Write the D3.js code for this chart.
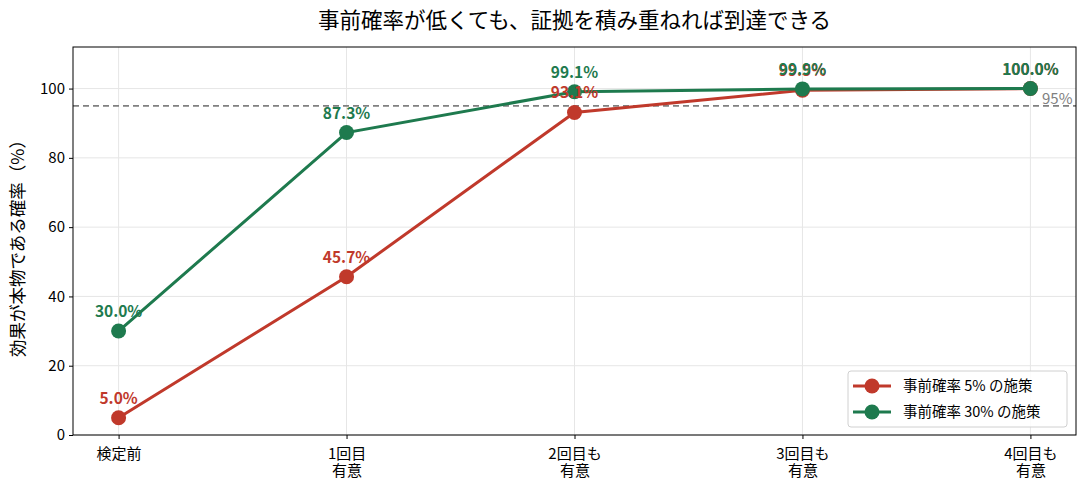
<!DOCTYPE html>
<html>
<head>
<meta charset="utf-8">
<script src="https://cdn.jsdelivr.net/npm/d3@7"></script>
<style>
  body { margin: 0; background: #fff; }
  text { font-family: "Noto Sans CJK JP", "Noto Sans", sans-serif; }
</style>
</head>
<body>
<svg id="chart" width="1087" height="494"></svg>
<script>
// data
var stages = ["検定前", "1回目\n有意", "2回目も\n有意", "3回目も\n有意", "4回目も\n有意"];
var prior5 = [5.0, 45.7, 93.1, 99.5, 100.0];
var prior30 = [30.0, 87.3, 99.1, 99.9, 100.0];
var seriesNames = ["事前確率 5% の施策", "事前確率 30% の施策"];
var seriesColors = ["#c0392b", "#1e7a4e"];
var yTicks = [0, 20, 40, 60, 80, 100];
var threshold = 95;

var svg = d3.select("#chart");
var margin = {top: 47, right: 11, bottom: 59, left: 73};
var width = 1087 - margin.left - margin.right,
    height = 494 - margin.top - margin.bottom;

var x = d3.scaleLinear().domain([-0.2, 4.2]).range([0, width]);
var y = d3.scaleLinear().domain([0, 112]).range([height, 0]);

svg.append("text")
    .attr("x", margin.left + width / 2)
    .attr("y", 28)
    .attr("text-anchor", "middle")
    .style("font-size", "21.5px")
    .text("事前確率が低くても、証拠を積み重ねれば到達できる");

var g = svg.append("g").attr("transform", "translate(" + margin.left + "," + margin.top + ")");

// grid
g.selectAll(".hgrid").data(yTicks).enter().append("line")
    .attr("x1", 0).attr("x2", width)
    .attr("y1", function(d) { return y(d); }).attr("y2", function(d) { return y(d); })
    .style("stroke", "#e6e6e6").style("stroke-width", 1);
g.selectAll(".vgrid").data(stages).enter().append("line")
    .attr("x1", function(d, i) { return x(i); }).attr("x2", function(d, i) { return x(i); })
    .attr("y1", 0).attr("y2", height)
    .style("stroke", "#e6e6e6").style("stroke-width", 1);

// threshold
g.append("line")
    .attr("x1", 0).attr("x2", width)
    .attr("y1", y(threshold)).attr("y2", y(threshold))
    .style("stroke", "#808080").style("stroke-width", 1.6)
    .style("stroke-dasharray", "6,4");
g.append("text")
    .attr("x", width - 34).attr("y", y(threshold) - 2)
    .style("font-size", "15px").style("fill", "#808080")
    .text("95%");

// axes
var yAxis = g.append("g").call(d3.axisLeft(y).tickValues(yTicks).tickSize(4).tickPadding(4));
var xAxis = g.append("g").attr("transform", "translate(0," + height + ")")
    .call(d3.axisBottom(x).tickValues(d3.range(stages.length)).tickSize(4));
xAxis.selectAll(".tick text").remove();

yAxis.selectAll("text").style("font-size", "15px").style("fill", "#000")
    .style("font-family", "\"Noto Sans CJK JP\", sans-serif");

xAxis.selectAll(".tick").each(function(d) {
    var lines = stages[d].split("\n");
    var t = d3.select(this).append("text")
        .attr("y", 10).attr("fill", "#000")
        .attr("text-anchor", "middle")
        .style("font-size", "15px");
    lines.forEach(function(l, k) {
        t.append("tspan").attr("x", 0).attr("dy", k == 0 ? "0.9em" : "1.15em").text(l);
    });
});

g.append("rect")
    .attr("width", width).attr("height", height)
    .style("fill", "none").style("stroke", "#000").style("stroke-width", 1);
g.selectAll(".domain").remove();
g.selectAll(".tick line").style("stroke", "#000");

// y label
svg.append("text")
    .attr("transform", "translate(24," + (margin.top + height / 2 + 3) + ") rotate(-90)")
    .attr("text-anchor", "middle")
    .style("font-size", "17.5px")
    .text("効果が本物である確率（%）");

// series
var allSeries = [prior5, prior30];
var line = d3.line().x(function(d, i) { return x(i); }).y(function(d) { return y(d); });

allSeries.forEach(function(vals, s) {
    g.append("path").datum(vals)
        .attr("d", line)
        .style("fill", "none").style("stroke", seriesColors[s]).style("stroke-width", 3);
    g.selectAll(".pt" + s).data(vals).enter().append("circle")
        .attr("cx", function(d, i) { return x(i); })
        .attr("cy", function(d) { return y(d); })
        .attr("r", 7.5)
        .style("fill", seriesColors[s]);
});
allSeries.forEach(function(vals, s) {
    g.selectAll(".lb" + s).data(vals).enter().append("text")
        .attr("x", function(d, i) { return x(i); })
        .attr("y", function(d) { return y(d) - 14; })
        .attr("text-anchor", "middle")
        .style("font-size", "15.5px").style("font-weight", "bold")
        .style("fill", seriesColors[s])
        .text(function(d) { return d.toFixed(1) + "%"; });
});

// legend
var lg = g.append("g").attr("transform", "translate(" + (width - 228) + "," + (height - 64) + ")");
lg.append("rect")
    .attr("width", 219).attr("height", 56).attr("rx", 3)
    .style("fill", "#fff").style("fill-opacity", 0.85)
    .style("stroke", "#d0d0d0");
seriesNames.forEach(function(name, s) {
    var row = lg.append("g").attr("transform", "translate(0," + (15 + s * 26) + ")");
    row.append("line").attr("x1", 5).attr("x2", 43)
        .style("stroke", seriesColors[s]).style("stroke-width", 3);
    row.append("circle").attr("cx", 24).attr("r", 7.5).style("fill", seriesColors[s]);
    row.append("text").attr("x", 55).attr("dy", "0.35em")
        .style("font-size", "14.5px").text(name);
});
</script>
</body>
</html>
